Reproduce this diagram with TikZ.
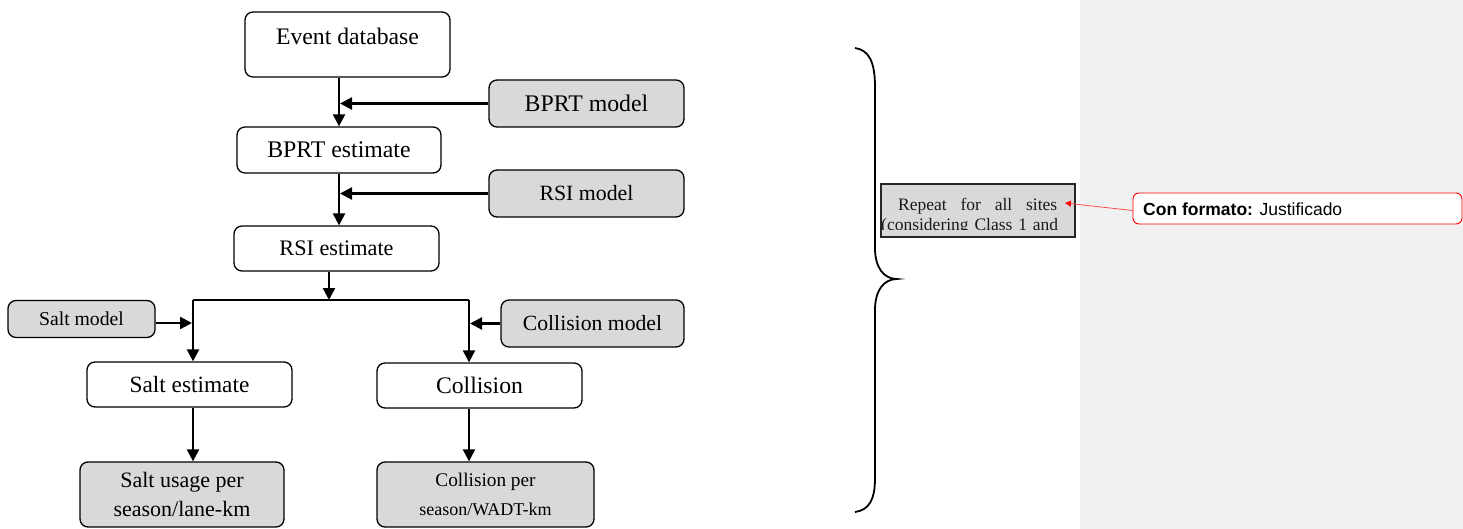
\documentclass[tikz,border=0pt]{standalone}
\usepackage{fontspec}
\setmainfont{Liberation Serif}
\newfontfamily\cmtfont{Liberation Sans}
\usetikzlibrary{arrows.meta}
\definecolor{boxgray}{HTML}{D9D9D9}
\definecolor{panelgray}{HTML}{F1F1F1}
\newcommand{\fsz}[1]{\fontsize{#1}{#1}\selectfont}
\begin{document}
\begin{tikzpicture}[x=1pt,y=-1pt,
  box/.style={draw, rounded corners=8pt, line width=1.3pt, inner sep=0pt, align=center, fill=white},
  gbox/.style={box, fill=boxgray},
  arr/.style={line width=2.3pt, -{Triangle[length=12pt,width=12pt]}},
  plain/.style={line width=2.3pt}]
\useasboundingbox (0,0) rectangle (1463,529);
\fill[panelgray] (1080,0) rectangle (1463,529);

% nodes
\node[box, minimum width=205pt, minimum height=65pt, text height=10pt, text depth=10pt, font=\fsz{23.7}] (ed) at (347.5,44.5) {Event database};
\node[gbox, minimum width=195pt, minimum height=47pt, font=\fsz{23.8}] (bm) at (586.5,103.5) {BPRT model};
\node[box, minimum width=204pt, minimum height=46pt, font=\fsz{23.8}] (be) at (339,150) {BPRT estimate};
\node[gbox, minimum width=195pt, minimum height=47pt, font=\fsz{21.8}] (rm) at (586.5,193.5) {RSI model};
\node[box, minimum width=205pt, minimum height=45pt, font=\fsz{22.2}] (re) at (336.5,248.5) {RSI estimate};
\node[gbox, minimum width=147pt, minimum height=37pt, font=\fsz{19.7}] (sm) at (81.5,319) {Salt model};
\node[gbox, minimum width=183pt, minimum height=47pt, font=\fsz{21.7}] (cm) at (592.5,323.5) {Collision model};
\node[box, minimum width=205pt, minimum height=45pt, font=\fsz{23.3}] (se) at (189.5,384.5) {Salt estimate};
\node[box, minimum width=205pt, minimum height=45pt, font=\fsz{23.7}] (co) at (479.5,385.5) {Collision};
\node[gbox, minimum width=204pt, minimum height=65pt, font={\fontsize{22}{29}\selectfont}] (su) at (182,494.5) {Salt usage per\\season/lane-km};
\node[gbox, minimum width=217pt, minimum height=65pt, font={\fontsize{19.3}{29}\selectfont}] (cp) at (485.5,494.5) {Collision per\\{\fsz{18}season/WADT-km}};

\coordinate (j) at (329,300);
\coordinate (jl) at (193,300);
\coordinate (jr) at (469,300);

% connectors
\draw[arr] (ed.south -| be.north) -- (be.north);
\draw[arr] (bm.west) -- ([xshift=1pt]be.north |- bm.west);
\draw[arr] (be.south) -- (be.south |- re.north);
\draw[arr] (rm.west) -- ([xshift=1pt]be.south |- rm.west);
\draw[arr] (re.south -| j) -- (j);
\draw[plain] (jl) -- (jr);
\draw[arr] (jl) -- (jl |- se.north);
\draw[arr] (jr) -- (jr |- co.north);
\draw[arr] ([yshift=-4pt]sm.east) -- ([xshift=-1pt,yshift=-4pt]jl |- sm.east);
\draw[arr] (cm.west) -- ([xshift=1pt]jr |- cm.west);
\draw[arr] (jl |- se.south) -- (jl |- su.north);
\draw[arr] (jr |- co.south) -- (jr |- cp.north);

% brace
\draw[line width=1.8pt] (855,48) .. controls (869,50) and (875,62) .. (875,87)
  -- (875,248) .. controls (875,268) and (884,279) .. (897,279)
  .. controls (884,279) and (875,290) .. (875,310)
  -- (875,478) .. controls (875,500) and (869,510) .. (855,512);

% repeat box
\node[draw=black!85, line width=1.6pt, fill=boxgray, minimum width=194pt, minimum height=53pt, inner sep=0pt] (rp) at (978,210.5) {};
\begin{scope}
\clip (882,185) rectangle (1074,229.5);
\node[anchor=base west, inner sep=0pt, font=\fsz{17.5}, text=black!90] (rp1) at (898,211) {\hbox to 159pt{Repeat\hfill for\hfill all\hfill sites}};
\node[anchor=base west, inner sep=0pt, font=\fsz{17.5}, text=black!90] (rp2) at (881,231) {\hbox to 177pt{(considering\hfill Class\hfill 1\hfill and}};
\end{scope}
\coordinate (tip) at (1065,203);

% comment
\node[draw=red, line width=0.9pt, rounded corners=6pt, fill=white, minimum width=329pt, minimum height=31pt, inner sep=0pt] (cf) at (1297.5,208.5) {};
\node[anchor=base west, inner sep=0pt, font={\cmtfont\fsz{17.5}}] (cft) at (1143,216) {\textbf{Con formato:} Justificado};
\draw[red!70, line width=0.8pt, -{Triangle[length=6pt,width=6pt,color=red]}] ([yshift=-2pt]cf.west) -- (tip);
\end{tikzpicture}
\end{document}
